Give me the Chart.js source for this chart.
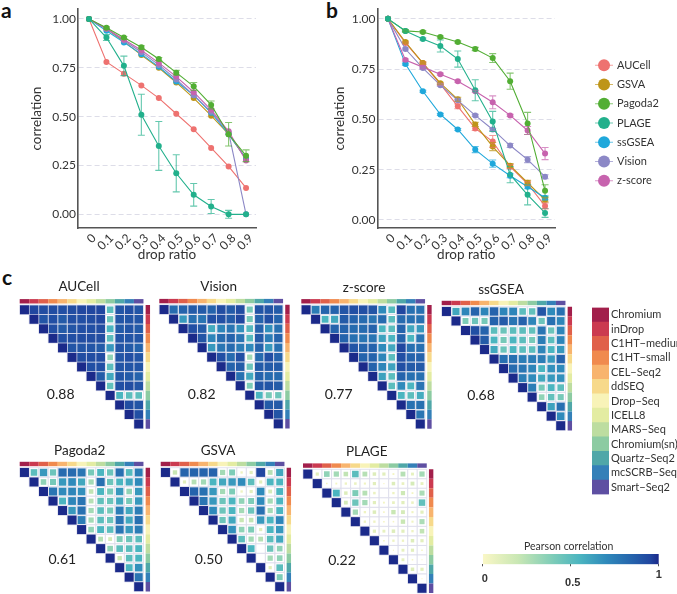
<!DOCTYPE html>
<html><head><meta charset="utf-8">
<script src="https://cdn.jsdelivr.net/npm/chart.js@4"></script>
<style>
html,body{margin:0;padding:0;background:#fff;width:677px;height:594px;overflow:hidden}
canvas{position:absolute}
.pl{position:absolute;font:bold 21px/20px Lato,sans-serif;color:#111}
</style></head><body>
<div class="pl" style="left:1px;top:0">a</div>
<div class="pl" style="left:326px;top:0">b</div>
<div class="pl" style="left:2px;top:267px">c</div>
<script>
const FONT='Lato,sans-serif';
const dropRatio=[0,.1,.2,.3,.4,.5,.6,.7,.8,.9];
const yTicks=[0,.25,.5,.75,1];
const methods=['AUCell','GSVA','Pagoda2','PLAGE','ssGSEA','Vision','z-score'];
const methodColors=['#EE7270','#BE9518','#52AE34','#22B08C','#1FA8DB','#8C88C6','#C763AE'];
// panel a
const aAUCell=[1,.78,.72,.66,.595,.515,.435,.34,.245,.135];
const aGSVA=[1,.95,.885,.815,.75,.675,.595,.505,.41,.285];
const aPagoda2=[1,.955,.905,.855,.795,.725,.655,.56,.41,.30];
const aPLAGE=[1,.905,.76,.51,.35,.21,.10,.04,0,0];
const aSsGSEA=[1,.94,.88,.82,.755,.68,.61,.52,.41,.285];
const aVision=[1,.95,.89,.83,.765,.69,.61,.525,.42,0];
const aZscore=[1,.95,.895,.84,.775,.705,.625,.535,.425,.275];
const aErrPLAGE=[0,.015,.05,.105,.125,.095,.058,.036,.02,0];
const aErrPagoda2=[0,.005,.005,.008,.008,.012,.02,.02,.06,.03];
// panel b
const bAUCell=[1,.88,.78,.675,.565,.455,.39,.265,.18,.07];
const bGSVA=[1,.885,.78,.68,.60,.475,.365,.27,.185,.10];
const bPagoda2=[1,.94,.935,.91,.885,.85,.805,.69,.48,.145];
const bPLAGE=[1,.94,.90,.865,.80,.645,.49,.225,.125,.035];
const bSsGSEA=[1,.775,.64,.525,.45,.35,.28,.22,.165,.11];
const bVision=[1,.85,.755,.67,.595,.52,.45,.37,.30,.215];
const bZscore=[1,.795,.76,.725,.69,.64,.585,.52,.445,.33];
const bErrPLAGE=[0,.005,.005,.03,.04,.052,.05,.04,.05,.022];
const bErrPagoda2=[0,.005,.005,.005,.005,.008,.022,.04,.055,.03];
const bErrZscore=[0,.005,.005,.005,.005,.005,.032,.005,.02,.03];
const bErrAUCell=[0,.005,.005,.005,.012,.01,.03,.01,.01,.015];
const bErrSsGSEA=[0,.005,.005,.005,.005,.015,.018,.01,.01,.01];
const bErrVision=[0,.005,.005,.005,.005,.005,.005,.01,.015,.01];
const bErrGSVA=[0,.005,.005,.005,.01,.01,.02,.01,.012,.01];
// correlation heatmaps: upper triangle rows, diagonal first
const platforms=['Chromium','inDrop','C1HT\u2212medium','C1HT\u2212small','CEL\u2212Seq2','ddSEQ','Drop\u2212Seq','ICELL8','MARS\u2212Seq','Chromium(sn)','Quartz\u2212Seq2','mcSCRB\u2212Seq','Smart\u2212Seq2'];
const platformColors=['#A21F4B','#CB3A50','#E0604A','#F08A4E','#F8B46E','#F7D98A','#F8F3B8','#E3ECA2','#BDDDA0','#8CCBA2','#4FA7A8','#3480B8','#5E4FA2'];
const heatAUCell=[[1,.95,.93,.93,.92,.93,.95,.95,.95,.5,.9,.92,.9],[1,.9,.92,.88,.92,.92,.93,.95,.45,.9,.9,.9],[1,.92,.88,.9,.92,.92,.93,.55,.88,.9,.88],[1,.92,.92,.93,.93,.93,.5,.9,.9,.9],[1,.9,.9,.9,.88,.65,.9,.88,.85],[1,.93,.93,.93,.35,.9,.92,.9],[1,.92,.92,.5,.9,.9,.9],[1,.88,.6,.9,.88,.85],[1,.48,.92,.93,.9],[1,.55,.5,.5],[1,.93,.9],[1,.92],[1]];
const heatVision=[[1,.82,.85,.88,.88,.85,.93,.88,.93,.42,.9,.9,.88],[1,.65,.8,.78,.92,.92,.88,.95,.42,.85,.92,.85],[1,.92,.88,.58,.72,.78,.68,.52,.85,.68,.8],[1,.9,.72,.82,.85,.78,.52,.88,.75,.85],[1,.65,.78,.82,.75,.7,.85,.65,.8],[1,.92,.82,.92,.3,.82,.92,.85],[1,.85,.88,.45,.88,.88,.88],[1,.8,.6,.85,.82,.82],[1,.4,.9,.9,.88],[1,.55,.42,.45],[1,.88,.88],[1,.9],[1]];
const heatZscore=[[1,.75,.85,.85,.9,.92,.92,.9,.7,.52,.95,.8,.8],[1,.55,.6,.88,.85,.82,.78,.82,.5,.82,.8,.8],[1,.85,.85,.82,.82,.85,.55,.5,.85,.6,.65],[1,.85,.8,.78,.78,.62,.55,.85,.55,.78],[1,.9,.85,.85,.7,.6,.95,.8,.8],[1,.85,.85,.72,.5,.92,.85,.85],[1,.85,.72,.62,.92,.88,.88],[1,.62,.5,.85,.8,.8],[1,.5,.7,.55,.78],[1,.55,.5,.58],[1,.8,.8],[1,.78],[1]];
const heatSsGSEA=[[1,.6,.72,.85,.72,.85,.72,.72,.5,.48,.9,.7,.8],[1,.4,.45,.42,.85,.88,.78,.85,.72,.45,.8,.72],[1,.92,.85,.5,.45,.5,.5,.48,.78,.45,.72],[1,.88,.55,.42,.55,.5,.42,.75,.5,.72],[1,.6,.45,.55,.5,.5,.72,.55,.65],[1,.8,.8,.75,.75,.75,.65,.85],[1,.82,.78,.72,.55,.68,.7],[1,.75,.7,.6,.65,.68],[1,.75,.42,.55,.5],[1,.35,.48,.42],[1,.62,.8],[1,.7],[1]];
const heatPagoda2=[[1,.5,.65,.45,.82,.82,.78,.42,.55,.45,.8,.52,.75],[1,.35,.42,.65,.7,.6,.3,.8,.45,.55,.6,.7],[1,.78,.7,.72,.68,.22,.55,.42,.65,.35,.65],[1,.55,.72,.78,.25,.48,.45,.6,.42,.65],[1,.65,.8,.3,.5,.42,.75,.6,.75],[1,.75,.3,.5,.45,.78,.6,.8],[1,.35,.55,.5,.78,.65,.75],[1,.25,.15,.4,.45,.5],[1,.35,.5,.5,.55],[1,.2,.5,.55],[1,.55,.68],[1,.78],[1]];
const heatGSVA=[[1,.2,.85,.85,.85,.85,.3,.4,.05,.1,.95,.25,.6],[1,.1,.25,.3,.55,.6,.65,.7,.5,.1,.55,.55],[1,.85,.8,.65,.3,.4,.05,.1,.7,.15,.55],[1,.78,.65,.45,.55,.35,.4,.7,.3,.55],[1,.7,.45,.55,.3,.45,.8,.3,.55],[1,.45,.6,.2,.22,.65,.55,.72],[1,.68,.35,.4,.1,.55,.65],[1,.5,.3,.25,.5,.6],[1,.55,0,.45,.35],[1,0,.3,.35],[1,.1,.5],[1,.4],[1]];
const heatPLAGE=[[1,.1,.35,.3,.22,.5,.25,.12,.1,.03,.25,.08,.3],[1,.02,.03,.05,.06,.04,.1,.01,.12,.07,.15,.08],[1,.55,.12,.4,.25,.06,0,.05,.18,.03,.28],[1,.15,.45,.3,.1,.03,.07,.1,.06,.48],[1,.3,.05,.12,.02,.2,.15,.04,.1],[1,.05,.05,.02,.02,.2,.04,.28],[1,.1,.08,.12,.1,.05,.22],[1,.02,.05,.05,.12,.1],[1,.01,.08,.1,.02],[1,.08,.02,.01],[1,.12,.1],[1,.01],[1]];
const heatStops=[[0,'#FAF7C6'],[.2,'#C9E7B4'],[.4,'#7DCCB8'],[.55,'#4BB5C0'],[.7,'#2F8ABB'],[.85,'#2563AC'],[.95,'#2147A0'],[1,'#1B2A8A']];

const hex=h=>[1,3,5].map(i=>parseInt(h.substr(i,2),16));
function heatColor(v){
  for(let i=1;i<heatStops.length;i++){
    if(v<=heatStops[i][0]){
      const [a,ca]=heatStops[i-1],[b,cb]=heatStops[i],t=(v-a)/(b-a);
      const A=hex(ca),B=hex(cb);
      return 'rgb('+A.map((x,k)=>Math.round(x+(B[k]-x)*t)).join(',')+')';
    }
  }
  return heatStops[heatStops.length-1][1];
}
function mkCanvas(l,t,w,h){
  const c=document.createElement('canvas');
  c.width=w;c.height=h;c.style.left=l+'px';c.style.top=t+'px';c.style.width=w+'px';c.style.height=h+'px';
  document.body.appendChild(c);return c.getContext('2d');
}
const notesPlugin=items=>({id:'notes',afterDraw(ch){
  const x=ch.ctx;x.save();x.textAlign='center';x.textBaseline='middle';
  items.forEach(n=>{x.font=n.font;x.fillStyle=n.color||'#222';x.fillText(n.text,n.x,n.y);});
  x.restore();
}});
const errPlugin=errs=>({id:'errs',afterDatasetsDraw(ch){
  const x=ch.ctx,sx=ch.scales.x,sy=ch.scales.y;x.save();x.lineWidth=1.1;
  Object.keys(errs).forEach(name=>{
    const ds=ch.data.datasets.find(d=>d.label===name);if(!ds)return;
    x.strokeStyle=ds.borderColor;x.globalAlpha=.7;
    errs[name].forEach((e,i)=>{
      if(e<=0)return;
      const p=sx.getPixelForValue(dropRatio[i]),y0=sy.getPixelForValue(ds.data[i].y-e),y1=sy.getPixelForValue(ds.data[i].y+e);
      x.beginPath();x.moveTo(p,y0);x.lineTo(p,y1);x.moveTo(p-3.5,y0);x.lineTo(p+3.5,y0);x.moveTo(p-3.5,y1);x.lineTo(p+3.5,y1);x.stroke();
    });
  });
  x.restore();
}});
function linePanel(cfg){
  const ctx=mkCanvas(cfg.left,0,cfg.w,270);
  const datasets=cfg.series.map((vals,i)=>({
    label:methods[i],
    data:vals.map((v,k)=>({x:dropRatio[k],y:v})),
    showLine:true,borderColor:methodColors[i],backgroundColor:methodColors[i],borderWidth:1.1,
    pointRadius:3,pointBackgroundColor:methodColors[i],pointBorderWidth:0,tension:0,
    order:methods[i]==='PLAGE'?-2:(methods[i]==='Pagoda2'?-1:7-i)
  }));
  new Chart(ctx,{type:'scatter',data:{datasets},plugins:[errPlugin(cfg.errs)],options:{
    responsive:false,animation:false,events:[],
    layout:{autoPadding:false,padding:{top:8,right:cfg.w-cfg.right,left:0,bottom:0}},
    plugins:{legend:{display:false},tooltip:{enabled:false},title:{display:false}},
    scales:{
      x:{type:'linear',min:cfg.xmin,max:cfg.xmax,
        afterFit:s=>{s.height=42;},
        afterBuildTicks:s=>{s.ticks=dropRatio.map(v=>({value:v}));},
        grid:{display:false,drawTicks:false,tickLength:0},border:{display:true,color:'#555',width:1.6},
        title:{display:true,text:'drop ratio',color:'#333',font:{family:FONT,size:13.5},padding:{top:0,bottom:7}},
        ticks:{color:'#333',font:{family:FONT,size:12},minRotation:45,maxRotation:45,padding:3,labelOffset:5,autoSkip:false,
          callback:v=>v===0?'0':v.toFixed(1)}},
      y:{type:'linear',min:cfg.ymin,max:cfg.ymax,
        afterFit:s=>{s.width=cfg.yw;},
        afterBuildTicks:s=>{s.ticks=yTicks.map(v=>({value:v}));},
        grid:{color:'#DDDDE8',lineWidth:1,drawTicks:false},border:{display:true,color:'#555',width:1.6,dash:[5,3]},
        title:{display:true,text:'correlation',color:'#333',font:{family:FONT,size:13.5},padding:{top:cfg.ytp,bottom:0}},
        ticks:{color:'#333',font:{family:FONT,size:12},padding:2,callback:v=>v.toFixed(2)}}
    }
  }});
}
linePanel({left:0,w:270,right:256,yw:78,ytp:29,xmin:-.063,xmax:.957,ymin:-.07,ymax:1.05,
  series:[aAUCell,aGSVA,aPagoda2,aPLAGE,aSsGSEA,aVision,aZscore],
  errs:{PLAGE:aErrPLAGE,Pagoda2:aErrPagoda2}});
linePanel({left:300,w:270,right:255,yw:77.5,ytp:31.5,xmin:-.06,xmax:.957,ymin:-.04,ymax:1.048,
  series:[bAUCell,bGSVA,bPagoda2,bPLAGE,bSsGSEA,bVision,bZscore],
  errs:{PLAGE:bErrPLAGE,Pagoda2:bErrPagoda2,'z-score':bErrZscore,AUCell:bErrAUCell,ssGSEA:bErrSsGSEA,Vision:bErrVision,GSVA:bErrGSVA}});

// method legend
(function(){
  const ctx=mkCanvas(590,47,87,152);
  const datasets=methods.map((m,i)=>({
    label:m,data:[{x:0,y:i},{x:.5,y:i},{x:1,y:i}],showLine:true,
    borderColor:methodColors[i]+'AA',borderWidth:1.2,backgroundColor:methodColors[i],
    pointBackgroundColor:methodColors[i],pointBorderWidth:0,pointRadius:[0,6,0]
  }));
  new Chart(ctx,{type:'scatter',data:{datasets},options:{
    responsive:false,animation:false,events:[],layout:{autoPadding:false,padding:0},
    plugins:{legend:{display:false},tooltip:{enabled:false}},
    scales:{
      x:{type:'linear',display:false,min:-.28,max:1.11},
      y:{type:'linear',position:'right',reverse:true,min:-.5,max:6.5,
        afterFit:s=>{s.width=62;},
        afterBuildTicks:s=>{s.ticks=methods.map((m,i)=>({value:i}));},
        grid:{display:false,drawTicks:false,tickLength:0},border:{display:false},
        ticks:{color:'#333',font:{family:FONT,size:11},padding:2,callback:v=>methods[v]}}
    }
  }});
})();

// platform legend
(function(){
  const ctx=mkCanvas(592,299,85,204);
  new Chart(ctx,{type:'bar',data:{labels:platforms,datasets:[{data:platforms.map(()=>1),backgroundColor:platformColors,barPercentage:1,categoryPercentage:1,borderWidth:0}]},options:{
    indexAxis:'y',responsive:false,animation:false,events:[],layout:{autoPadding:false,padding:0},
    plugins:{legend:{display:false},tooltip:{enabled:false}},
    scales:{
      x:{type:'linear',display:false,min:0,max:1},
      y:{type:'category',position:'right',afterFit:s=>{s.width=68;},grid:{display:false,drawTicks:false,tickLength:0},border:{display:false},
        ticks:{color:'#333',font:{family:FONT,size:11},padding:2,autoSkip:false}}
    }
  }});
})();

// colour bar
const barTicks=[0,.5,1];
const barTickNudge=[5,9,1];
(function(){
  const ctx=mkCanvas(470,530,207,64);
  const labelsPlugin={id:'barlabels',afterDraw(ch){
    const x=ch.ctx,s=ch.scales.x;x.save();x.font='bold 11px "Liberation Sans",sans-serif';x.fillStyle='#333';x.textAlign='center';x.textBaseline='middle';
    barTicks.forEach((v,i)=>x.fillText(String(v),s.getPixelForValue(v)+(i===0?2:i===1?2:0),44+barTickNudge[i]));
    x.restore();
  }};
  new Chart(ctx,{type:'bar',data:{labels:[''],datasets:[{data:[1],barPercentage:1,categoryPercentage:1,borderWidth:0,
      backgroundColor:c=>{
        const a=c.chart.chartArea;if(!a)return '#888';
        const g=c.chart.ctx.createLinearGradient(a.left,0,a.right,0);
        heatStops.forEach(([p,col])=>g.addColorStop(p,col));return g;
      }}]},
    plugins:[labelsPlugin,notesPlugin([{text:'Pearson correlation',x:98.7,y:16.7,font:'10.5px '+FONT,color:'#333'}])],
    options:{indexAxis:'y',responsive:false,animation:false,events:[],
      layout:{autoPadding:false,padding:{left:12.7,right:18.3,top:24,bottom:0}},
      plugins:{legend:{display:false},tooltip:{enabled:false}},
      scales:{
        x:{type:'linear',min:0,max:1,afterFit:s=>{s.height=64-34.3;},
          afterBuildTicks:s=>{s.ticks=barTicks.map(v=>({value:v}));},
          grid:{drawOnChartArea:false,drawTicks:true,tickLength:2,color:'#555'},border:{display:false},
          ticks:{display:false}},
        y:{type:'category',display:false}
      }}
  });
})();

// heatmaps
const heatPanels=[
 {title:'AUCell',m:heatAUCell,score:'0.88',x0:19.7,y0:305,tx:79,ty:287,sx:60.7,sy:394},
 {title:'Vision',m:heatVision,score:'0.82',x0:159.3,y0:304.8,tx:218.7,ty:287,sx:201.7,sy:394},
 {title:'z-score',m:heatZscore,score:'0.77',x0:301.3,y0:305,tx:364,ty:288,sx:338.7,sy:394.7},
 {title:'ssGSEA',m:heatSsGSEA,score:'0.68',x0:441.7,y0:306.7,tx:501,ty:290,sx:481,sy:395},
 {title:'Pagoda2',m:heatPagoda2,score:'0.61',x0:19.7,y0:467.7,tx:79.7,ty:450.7,sx:62.3,sy:559.7},
 {title:'GSVA',m:heatGSVA,score:'0.50',x0:160.7,y0:467.7,tx:218,ty:451,sx:208.7,sy:559},
 {title:'PLAGE',m:heatPLAGE,score:'0.22',x0:303,y0:469.3,tx:366.7,ty:452,sx:342,sy:560}
];
const CELL=9.52;
heatPanels.forEach(p=>{
  const L=Math.floor(p.x0)-1,T=Math.floor(p.y0)-28,W=Math.ceil(13*CELL+10)+2,H=Math.min(594-T,Math.ceil(13*CELL)+30);
  const ctx=mkCanvas(L,T,W,H);
  const xmin=-.5-(p.x0-L)/CELL,ymin=-.5-(p.y0-T)/CELL;
  const cells=[];
  p.m.forEach((row,i)=>row.forEach((v,k)=>cells.push({x:i+k,y:i,v})));
  const strip=(mk)=>({type:'scatter',showLine:true,pointRadius:0,borderWidth:4.4,borderCapStyle:'butt',borderJoinStyle:'bevel',
    data:Array.from({length:14},(_,i)=>mk(i-.5)),borderColor:platformColors[0],
    segment:{borderColor:c=>platformColors[c.p0DataIndex]}});
  new Chart(ctx,{type:'scatter',data:{datasets:[
    {data:cells,order:0,pointStyle:'rect',
      pointRadius:c=>(CELL-.5)*Math.pow(c.raw.v,.45)/Math.SQRT2,
      pointBackgroundColor:c=>heatColor(c.raw.v),pointBorderWidth:0},
    {data:cells,order:1,pointStyle:'rect',pointRadius:CELL/Math.SQRT2,pointBackgroundColor:'#fff',pointBorderColor:'#DADAEA',pointBorderWidth:.8},
    strip(t=>({x:t,y:-.89})),
    strip(t=>({x:12.96,y:t}))
  ]},
  plugins:[notesPlugin([
    {text:p.title,x:p.tx-L,y:p.ty-T,font:'13.5px '+FONT},
    {text:p.score,x:p.sx-L,y:p.sy-T,font:'14px '+FONT}
  ])],
  options:{responsive:false,animation:false,events:[],layout:{autoPadding:false,padding:0},
    plugins:{legend:{display:false},tooltip:{enabled:false}},
    scales:{
      x:{type:'linear',display:false,min:xmin,max:xmin+W/CELL},
      y:{type:'linear',display:false,reverse:true,min:ymin,max:ymin+H/CELL}
    }}});
});
</script>
</body></html>
